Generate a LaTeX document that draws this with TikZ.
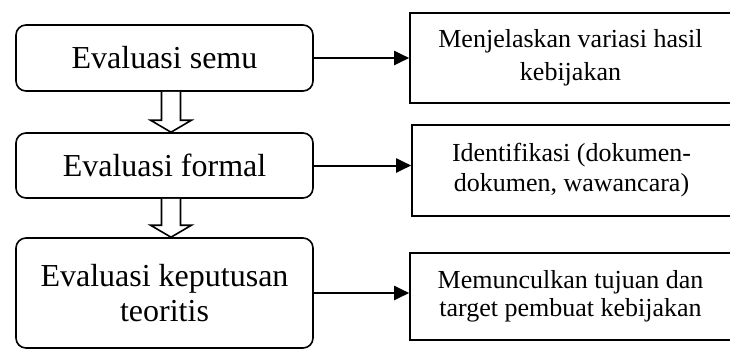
\documentclass[tikz,border=0pt]{standalone}
\usepackage{fontspec}
\setmainfont{Liberation Serif}
\usepackage{tikz}
\usetikzlibrary{arrows.meta,calc}
\tikzstyle{kind}=[
        draw,
        line width=0.8pt,
        rounded corners=5pt,
        minimum width=148.5pt,
        align=center,
        inner sep=0pt,
        font=\fontsize{16}{17.5}\selectfont
]
\tikzstyle{result}=[
        draw,
        line width=0.8pt,
        align=center,
        inner sep=0pt,
        font=\fontsize{13}{16.5}\selectfont
]
\tikzstyle{link}=[
        line width=1pt,
        -{Triangle[length=7.5pt,width=7pt]}
]
\tikzstyle{hollow}=[
        draw,
        line width=0.8pt,
        fill=white
]

\begin{document}
\begin{tikzpicture}[x=0.5pt,y=-0.5pt]
                    \useasboundingbox (0,0) rectangle (730,349);
                    \clip (0,0) rectangle (730,349);

                    \node[kind, minimum height=33pt] (semu) at (164.5,58) {Evaluasi semu};
                    \node[kind, minimum height=32.5pt] (formal) at (164.5,165.5) {Evaluasi formal};
                    \node[kind, minimum height=55pt] (teori) at (164.5,293) {Evaluasi keputusan\\teoritis};

                    \node[result, minimum width=160.5pt, minimum height=45pt] (hasil) at (570.5,58)
                        {Menjelaskan variasi hasil\\kebijakan};
                    \node[result, minimum width=159.5pt, minimum height=45.5pt,
                          font=\fontsize{13}{15}\selectfont] (dokumen) at (571.5,170.5)
                        {Identifikasi (dokumen-\\dokumen, wawancara)};
                    \node[result, minimum width=160.5pt, minimum height=43.5pt,
                          font=\fontsize{13}{14}\selectfont] (target) at (570.5,296.5)
                        {Memunculkan tujuan dan\\target pembuat kebijakan};

                    \draw[link] (semu.east) -- (semu.east -| hasil.west);
                    \draw[link] (formal.east) -- (formal.east -| dokumen.west);
                    \draw[link] (teori.east) -- (teori.east -| target.west);

                    \foreach \a/\b in {semu/formal,formal/teori} {
                        \draw[hollow] ($(\a.south)+(-3,0)$) -- ($(\b.north)+(-3,-12)$)
                            -- ($(\b.north)+(-14,-12)$) -- ($(\b.north)+(6.5,0)$)
                            -- ($(\b.north)+(27,-12)$) -- ($(\b.north)+(16,-12)$)
                            -- ($(\a.south)+(16,0)$);
                    }

                \end{tikzpicture}
\end{document}
